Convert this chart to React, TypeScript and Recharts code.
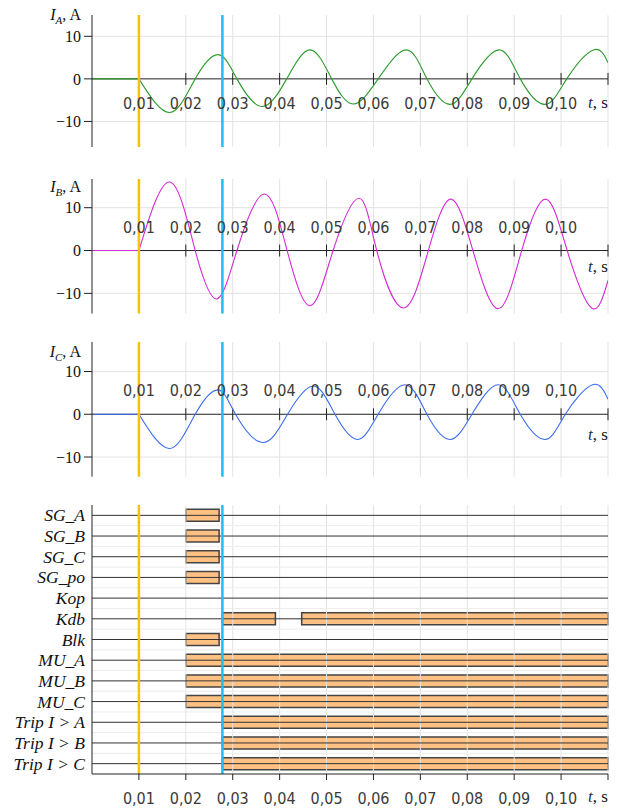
import React from 'react';
import { LineChart, Line, XAxis, YAxis, ReferenceLine, ReferenceArea } from 'recharts';

// time axis
const X_MAX = 0.11;
const TIME_TICKS = [0.01, 0.02, 0.03, 0.04, 0.05, 0.06, 0.07, 0.08, 0.09, 0.1, 0.11];
const TIME_LABELS = ['0,01', '0,02', '0,03', '0,04', '0,05', '0,06', '0,07', '0,08', '0,09', '0,10', ''];
const Y_TICKS = [-10, 0, 10];

// cursors
const FAULT_T = 0.01;
const TRIP_T = 0.0278;

// before the fault every phase is flat
const PRE_T = [0, 0.01];
const PRE_V = [0, 0];

// phase A (extrema and zero crossings)
const T_A = [0.01, 0.0166, 0.022, 0.0269, 0.0309, 0.0362, 0.0415, 0.0465, 0.0511, 0.0557, 0.061, 0.067, 0.0714, 0.0763, 0.081, 0.0868, 0.0913, 0.0966, 0.1012, 0.1069, 0.11];
const V_A = [0, -7.9, 0, 5.7, 0, -6.5, 0, 6.8, 0, -5.9, 0, 6.8, 0, -6.0, 0, 6.8, 0, -6.0, 0, 6.8, 3.8];

// phase B
const T_B = [0.01, 0.0166, 0.022, 0.0266, 0.0309, 0.0367, 0.0416, 0.0465, 0.0514, 0.0569, 0.0607, 0.0664, 0.0717, 0.0765, 0.0812, 0.0866, 0.0916, 0.0967, 0.1013, 0.1065, 0.11];
const V_B = [0, 16.0, 0, -11.3, 0, 13.2, 0, -12.9, 0, 12.2, 0, -13.4, 0, 12.0, 0, -13.6, 0, 12.0, 0, -13.4, -7.0];

// phase C
const T_C = [0.01, 0.0166, 0.022, 0.0269, 0.0306, 0.0364, 0.0417, 0.0472, 0.0518, 0.0566, 0.061, 0.0667, 0.0714, 0.0763, 0.081, 0.0866, 0.0913, 0.0966, 0.1009, 0.1067, 0.11];
const V_C = [0, -8.0, 0, 5.7, 0, -6.6, 0, 6.6, 0, -5.9, 0, 6.9, 0, -5.9, 0, 6.9, 0, -5.9, 0, 6.9, 3.5];

// discrete signals and the intervals where each one is active
const SIGNALS = ['SG_A', 'SG_B', 'SG_C', 'SG_po', 'Kop', 'Kdb', 'Blk', 'MU_A', 'MU_B', 'MU_C', 'Trip I > A', 'Trip I > B', 'Trip I > C'];
const ACTIVE: number[][][] = [
  [[0.02, 0.0271]],
  [[0.02, 0.0271]],
  [[0.02, 0.0271]],
  [[0.02, 0.0271]],
  [],
  [[0.0278, 0.0391], [0.0447, 0.11]],
  [[0.02, 0.0271]],
  [[0.02, 0.11]],
  [[0.02, 0.11]],
  [[0.02, 0.11]],
  [[0.0278, 0.11]],
  [[0.0278, 0.11]],
  [[0.0278, 0.11]],
];

const NARROW = "'Liberation Sans Narrow', 'DejaVu Sans Condensed', 'Liberation Sans', sans-serif";
const SERIF = "'Liberation Serif', 'Times New Roman', serif";
const GRID = '#e3e3e3';
const AXIS = '#222';

const zip = (t: number[], v: number[]) => t.map((x, i) => ({ t: x, v: v[i] }));
const fmtY = (v: number) => (v < 0 ? '\u2212' + Math.abs(v) : String(v));
const fmtT = (v: number) => TIME_LABELS[TIME_TICKS.findIndex((x) => Math.abs(x - v) < 1e-9)] ?? '';

interface AnalogProps {
  top: number;
  height: number;
  mt: number;
  mb: number;
  domain: [number, number];
  t: number[];
  v: number[];
  color: string;
  side: 'top' | 'bottom';
  offset: number;
}

const Analog: React.FC<AnalogProps> = ({ top, height, mt, mb, domain, t, v, color, side, offset }) => {
  const tk = 1.4;
  return (
    <div style={{ position: 'absolute', left: 0, top }}>
      <LineChart width={622} height={height} margin={{ top: mt, right: 14, bottom: mb, left: 0 }}>
        <XAxis type="number" dataKey="t" domain={[0, X_MAX]} hide allowDataOverflow />
        <YAxis
          type="number"
          domain={domain}
          ticks={Y_TICKS}
          interval={0}
          width={92}
          allowDataOverflow
          axisLine={{ stroke: AXIS }}
          tickLine={{ stroke: AXIS }}
          tickSize={8}
          tickMargin={3}
          tick={{ fill: '#111', fontSize: 16, fontFamily: SERIF }}
          tickFormatter={fmtY}
        />
        {TIME_TICKS.map((x) => (
          <ReferenceLine key={'vg' + x} x={x} stroke={GRID} />
        ))}
        <ReferenceLine y={10} stroke={GRID} />
        <ReferenceLine y={-10} stroke={GRID} />
        <ReferenceLine y={0} stroke={AXIS} />
        {TIME_TICKS.map((x, i) => (
          <ReferenceLine
            key={'tk' + x}
            segment={[{ x, y: -tk }, { x, y: tk }]}
            stroke={AXIS}
            label={{ value: TIME_LABELS[i], position: side, offset, fill: '#3a3a3a', fontSize: 16, fontFamily: NARROW }}
          />
        ))}
        <Line data={zip(PRE_T, PRE_V)} dataKey="v" type="linear" stroke={color} strokeWidth={1.1} dot={false} isAnimationActive={false} />
        <Line data={zip(t, v)} dataKey="v" type="natural" stroke={color} strokeWidth={1.1} dot={false} isAnimationActive={false} />
        <ReferenceLine x={FAULT_T} stroke="#F7C300" strokeWidth={2.5} />
        <ReferenceLine x={TRIP_T} stroke="#20BDF0" strokeWidth={2.5} />
      </LineChart>
    </div>
  );
};

const RowTick = (props: any) => {
  const { x, y, payload } = props;
  return (
    <text x={x} y={y} dy={6} textAnchor="end" fontStyle="italic" fontFamily={SERIF} fontSize={17.5} fill="#111">
      {SIGNALS[Math.floor(payload.value)]}
    </text>
  );
};

const Digital: React.FC = () => {
  const rows = SIGNALS.map((_, i) => i + 0.5);
  const h = 0.29;
  return (
    <div style={{ position: 'absolute', left: 0, top: 495 }}>
      <LineChart width={622} height={315} margin={{ top: 10, right: 14, bottom: 0, left: 0 }}>
        <XAxis
          type="number"
          dataKey="t"
          domain={[0, X_MAX]}
          ticks={TIME_TICKS}
          interval={0}
          height={36}
          allowDataOverflow
          axisLine={{ stroke: AXIS }}
          tickLine={{ stroke: AXIS }}
          tickSize={6}
          tickMargin={13}
          tick={{ fill: '#3a3a3a', fontSize: 16, fontFamily: NARROW }}
          tickFormatter={fmtT}
        />
        <YAxis
          type="number"
          domain={[0, SIGNALS.length]}
          reversed
          ticks={rows}
          interval={0}
          width={92}
          allowDataOverflow
          axisLine={{ stroke: AXIS }}
          tickLine={false}
          tickSize={0}
          tickMargin={7}
          tick={<RowTick />}
        />
        {TIME_TICKS.map((x) => (
          <ReferenceLine key={'vg' + x} x={x} stroke={GRID} />
        ))}
        {SIGNALS.slice(1).map((_, i) => (
          <ReferenceLine key={'sep' + i} y={i + 1} stroke="#ececec" />
        ))}
        {rows.map((yc) => (
          <ReferenceLine key={'base' + yc} segment={[{ x: 0, y: yc }, { x: X_MAX, y: yc }]} stroke="#333" />
        ))}
        {ACTIVE.map((spans, i) =>
          spans.map(([x1, x2], j) => (
            <ReferenceArea
              key={'a' + i + '-' + j}
              x1={x1}
              x2={x2}
              y1={rows[i] - h}
              y2={rows[i] + h}
              fill="#FFC183"
              fillOpacity={1}
              stroke="#444"
              strokeWidth={1.5}
            />
          ))
        )}
        <ReferenceLine x={FAULT_T} stroke="#F7C300" strokeWidth={2.5} />
        <ReferenceLine x={TRIP_T} stroke="#20BDF0" strokeWidth={2.5} />
      </LineChart>
    </div>
  );
};

const Title: React.FC<{ top: number; sub: string }> = ({ top, sub }) => (
  <div style={{ position: 'absolute', right: 541, top, fontFamily: SERIF, fontSize: 16, lineHeight: '20px', whiteSpace: 'nowrap', color: '#111' }}>
    <i>I</i>
    <i style={{ fontSize: 11, position: 'relative', top: 4 }}>{sub}</i>, A
  </div>
);

const TimeUnit: React.FC<{ top: number }> = ({ top }) => (
  <div style={{ position: 'absolute', left: 588, top, fontFamily: SERIF, fontSize: 17, lineHeight: '20px', whiteSpace: 'nowrap', color: '#111' }}>
    <i style={{ color: '#1f2d5a' }}>t</i>, s
  </div>
);

export default function App() {
  return (
    <div style={{ position: 'absolute', left: 0, top: 0, width: 622, height: 810, background: '#fff', overflow: 'hidden' }}>
      <Analog top={0} height={160} mt={15} mb={13} domain={[-16, 15]} t={T_A} v={V_A} color="#2E9B2E" side="bottom" offset={13} />
      <Analog top={165} height={160} mt={14} mb={11.5} domain={[-14.7, 16.7]} t={T_B} v={V_B} color="#D42AD4" side="top" offset={12} />
      <Analog top={330} height={160} mt={12} mb={13.3} domain={[-14.6, 16.9]} t={T_C} v={V_C} color="#3C6CF0" side="top" offset={12} />
      <Digital />
      <Title top={5} sub="A" />
      <Title top={177} sub="B" />
      <Title top={342} sub="C" />
      <TimeUnit top={93} />
      <TimeUnit top={257} />
      <TimeUnit top={425} />
      <TimeUnit top={787} />
    </div>
  );
}
